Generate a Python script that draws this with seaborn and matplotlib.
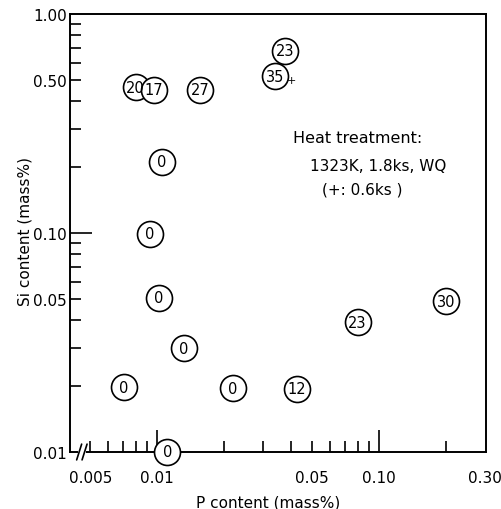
import matplotlib
matplotlib.use("Agg")
import matplotlib.pyplot as plt
import seaborn as sns
import pandas as pd
from matplotlib.ticker import FixedLocator, FixedFormatter, NullFormatter

# ---- data ----
p_content = [0.0080, 0.0097, 0.0156, 0.0105, 0.0093, 0.0377, 0.0340, 0.0102,
             0.0132, 0.0071, 0.0220, 0.0111, 0.0427, 0.0800, 0.200]
si_content = [0.464, 0.450, 0.450, 0.211, 0.099, 0.678, 0.521, 0.0505,
              0.0298, 0.0198, 0.0195, 0.0100, 0.0194, 0.0392, 0.0489]
labels = ["20", "17", "27", "0", "0", "23", "35", "0",
          "0", "0", "0", "0", "12", "23", "30"]
short_time = ["35"]  # point marked with '+' (0.6 ks)

x_major_ticks = [0.005, 0.01, 0.05, 0.1, 0.3]
x_major_labels = ["0.005", "0.01", "0.05", "0.10", "0.30"]
x_minor_ticks = [0.006, 0.007, 0.008, 0.009, 0.02, 0.03, 0.04,
                 0.06, 0.07, 0.08, 0.09, 0.2]
y_major_ticks = [0.01, 0.05, 0.1, 0.5, 1.0]
y_major_labels = ["0.01", "0.05", "0.10", "0.50", "1.00"]
y_minor_ticks = [0.02, 0.03, 0.04, 0.06, 0.07, 0.08, 0.09,
                 0.2, 0.3, 0.4, 0.6, 0.7, 0.8, 0.9]

sns.set_style("ticks")
plt.rcParams['font.family'] = ['DejaVu Sans']
plt.rcParams['text.color'] = 'black'
plt.rcParams['axes.labelcolor'] = 'black'
plt.rcParams['xtick.color'] = 'black'
plt.rcParams['ytick.color'] = 'black'

fig = plt.figure(figsize=(5.01, 5.10), dpi=100)
ax = fig.add_axes([70 / 501, 1 - 453 / 510, 416 / 501, 438 / 510])

df = pd.DataFrame({"P": p_content, "Si": si_content, "label": labels})
sns.scatterplot(data=df, x="P", y="Si", ax=ax, s=350, color="white",
                edgecolor="black", linewidth=1.2, zorder=5, clip_on=False,
                legend=False)

ax.set_xscale("log")
ax.set_yscale("log")
ax.set_xlim(0.00405, 0.303)
ax.set_ylim(0.01, 1.0)

for x, y, lab in zip(df["P"], df["Si"], df["label"]):
    ax.text(x, y, lab, ha="center", va="center", fontsize=10.5, zorder=7,
            color="black")
    if lab in short_time and y > 0.5:
        ax.annotate("+", xy=(x, y), xytext=(12, -3), textcoords="offset points",
                    ha="center", va="center", fontsize=8, zorder=7,
                    color="black")

ax.xaxis.set_major_locator(FixedLocator(x_major_ticks))
ax.xaxis.set_major_formatter(FixedFormatter(x_major_labels))
ax.xaxis.set_minor_locator(FixedLocator(x_minor_ticks))
ax.xaxis.set_minor_formatter(NullFormatter())
ax.yaxis.set_major_locator(FixedLocator(y_major_ticks))
ax.yaxis.set_major_formatter(FixedFormatter(y_major_labels))
ax.yaxis.set_minor_locator(FixedLocator(y_minor_ticks))
ax.yaxis.set_minor_formatter(NullFormatter())

ax.tick_params(which="both", direction="in", width=1.2, color="black",
               labelcolor="black", labelsize=11, top=False, right=False)
ax.tick_params(which="major", length=8)
ax.tick_params(which="minor", length=8)
ax.tick_params(axis="x", which="major", pad=13)
ax.tick_params(axis="y", which="major", pad=2)

xt = ax.xaxis.get_major_ticks()
xt[1].tick1line.set_markersize(16)
xt[3].tick1line.set_markersize(16)
xt[4].tick1line.set_markersize(0)
yt = ax.yaxis.get_major_ticks()
yt[0].tick1line.set_markersize(0)
yt[2].tick1line.set_markersize(16)
yt[4].tick1line.set_markersize(0)

for sp in ax.spines.values():
    sp.set_visible(True)
    sp.set_linewidth(1.4)
    sp.set_color("black")

# axis break marks on the x axis
trans = ax.transAxes
ax.plot([0.024, 0.034], [0, 0], color="white", lw=3, transform=trans,
        clip_on=False, zorder=6)
for xc in [0.022, 0.035]:
    ax.plot([xc - 0.006, xc + 0.006], [-0.018, 0.018], color="black", lw=1.2,
            transform=trans, clip_on=False, zorder=7)

ax.text(0.536, 0.719, "Heat treatment:", transform=trans, fontsize=11.5,
        ha="left", va="center", color="black")
ax.text(0.577, 0.653, "1323K, 1.8ks, WQ", transform=trans, fontsize=11,
        ha="left", va="center", color="black")
ax.text(0.606, 0.600, "(+: 0.6ks )", transform=trans, fontsize=11,
        ha="left", va="center", color="black")

ax.set_xlabel("P content (mass%)", fontsize=11, color="black")
ax.set_ylabel("Si content (mass%)", fontsize=11, color="black")
ax.xaxis.set_label_coords(0.476, -0.096)
ax.yaxis.set_label_coords(-0.089, 0.505)

fig.savefig("out.png", dpi=100)
